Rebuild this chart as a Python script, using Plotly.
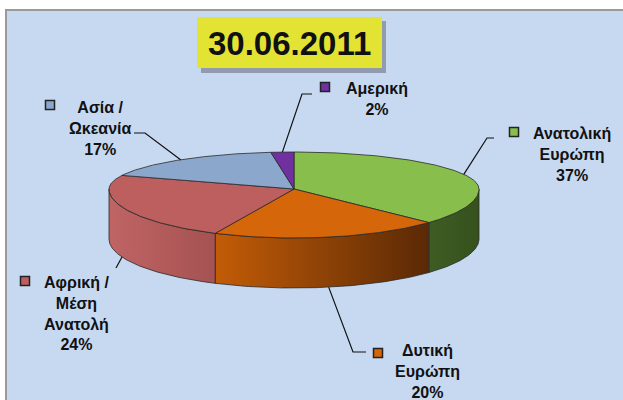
import numpy as np
import plotly.graph_objects as go

# ---- data ----
title_text = "30.06.2011"
regions = ["Ανατολική<br>Ευρώπη", "Δυτική<br>Ευρώπη", "Αφρική /<br>Μέση<br>Ανατολή",
           "Ασία /<br>Ωκεανία", "Αμερική"]
shares = [37, 20, 24, 17, 2]
top_colors = ["#88bf4c", "#d5660a", "#bd5f5f", "#8ba8cc", "#7030a0"]
side_colors = [("#3e5d22", "#36511d"), ("#c35c07", "#5a2905"), ("#c06464", "#a55252"),
               ("#7d97b8", "#6f88a8"), ("#60288c", "#55227c")]

# ---- layout geometry (pixel space) ----
W, H = 623, 400
cx, cy = 294, 189
rx, ry_back, ry_front = 185, 37, 49
depth = 50
edge = "#2a2a2a"


def ell(theta_deg):
    t = np.radians(theta_deg)
    x = cx + rx * np.sin(t)
    c = np.cos(t)
    y = np.where(c > 0, cy - ry_back * c, cy - ry_front * c)
    return x, y


fig = go.Figure()

# background frame
shapes = [
    dict(type="rect", xref="x", yref="y", x0=6, y0=10, x1=W + 5, y1=H + 5,
         fillcolor="#c6d9f1", line=dict(color="#9a9a9a", width=2), layer="below"),
]

total = sum(shares)
bounds = np.concatenate([[0], np.cumsum(shares)]) / total * 360.0

# side faces
for i, (a, b) in enumerate(zip(bounds[:-1], bounds[1:])):
    lo, hi = max(a, 90), min(b, 270)
    if hi <= lo:
        continue
    th = np.linspace(lo, hi, 80)
    x, y = ell(th)
    xs = np.concatenate([x, x[::-1], [x[0]]])
    ys = np.concatenate([y, (y + depth)[::-1], [y[0]]])
    c1, c2 = side_colors[i]
    fig.add_trace(go.Scatter(
        x=xs, y=ys, mode="lines", fill="toself",
        fillgradient=dict(type="horizontal", colorscale=[[0, c1], [1, c2]]),
        line=dict(color=edge, width=0.8), hoverinfo="skip", showlegend=False))

# top faces
for i, (a, b) in enumerate(zip(bounds[:-1], bounds[1:])):
    th = np.linspace(a, b, 120)
    x, y = ell(th)
    xs = np.concatenate([[cx], x, [cx]])
    ys = np.concatenate([[cy], y, [cy]])
    fig.add_trace(go.Scatter(
        x=xs, y=ys, mode="lines", fill="toself", fillcolor=top_colors[i],
        line=dict(color=edge, width=0.8), hoverinfo="text",
        text=f"{regions[i].replace('<br>', ' ')}: {shares[i]}%", showlegend=False))

# labels
label_pos = [(572, 154), (427, 371), (76, 313), (100, 128), (377, 99)]
square_pos = [(514, 132), (378, 353), (25, 281), (50, 105), (325, 87)]
elbows = [[(487, 138), (494, 138)], [(353, 352), (366, 352)], [(116, 268)],
          [(145, 133), (134, 133)], [(302, 94), (312, 94)]]
on_side = [False, True, True, False, False]

annotations = []
for i, (a, b) in enumerate(zip(bounds[:-1], bounds[1:])):
    mid = (a + b) / 2
    ax_, ay_ = ell(mid)
    ax_, ay_ = float(ax_), float(ay_)
    if on_side[i]:
        ay_ += depth
    pts = [(ax_, ay_)] + elbows[i]
    fig.add_trace(go.Scatter(x=[p[0] for p in pts], y=[p[1] for p in pts], mode="lines",
                             line=dict(color="#111111", width=1.2), hoverinfo="skip",
                             showlegend=False))
    fig.add_trace(go.Scatter(x=[square_pos[i][0]], y=[square_pos[i][1]], mode="markers",
                             marker=dict(symbol="square", size=9, color=top_colors[i],
                                         line=dict(color="#222222", width=1.5)),
                             hoverinfo="skip", showlegend=False))
    annotations.append(dict(
        x=label_pos[i][0], y=label_pos[i][1], xref="x", yref="y",
        text=f"<b>{regions[i]}<br>{shares[i]}%</b>", showarrow=False,
        align="center", xanchor="center", yanchor="middle",
        font=dict(family="Liberation Sans, Arial", size=16, color="#111111")))

# title box
shapes += [
    dict(type="rect", xref="x", yref="y", x0=201, y0=21, x1=386, y1=73,
         fillcolor="rgba(80,80,90,0.45)", line=dict(width=0)),
    dict(type="rect", xref="x", yref="y", x0=197, y0=17, x1=382, y1=68,
         fillcolor="#e3e333", line=dict(width=0)),
]
annotations.append(dict(x=289.5, y=43, xref="x", yref="y", text=f"<b>{title_text}</b>",
                        showarrow=False, xanchor="center", yanchor="middle",
                        font=dict(family="Liberation Sans, Arial", size=33, color="#111111")))

fig.update_layout(
    width=W, height=H, margin=dict(l=0, r=0, t=0, b=0),
    paper_bgcolor="white", plot_bgcolor="white",
    xaxis=dict(range=[0, W], visible=False, fixedrange=True),
    yaxis=dict(range=[H, 0], visible=False, fixedrange=True),
    shapes=shapes, annotations=annotations, showlegend=False,
)

fig.write_html(
    "out.html",
    config={"displayModeBar": False},
    post_script="document.body.style.margin='0px';document.body.style.overflow='hidden';",
)
